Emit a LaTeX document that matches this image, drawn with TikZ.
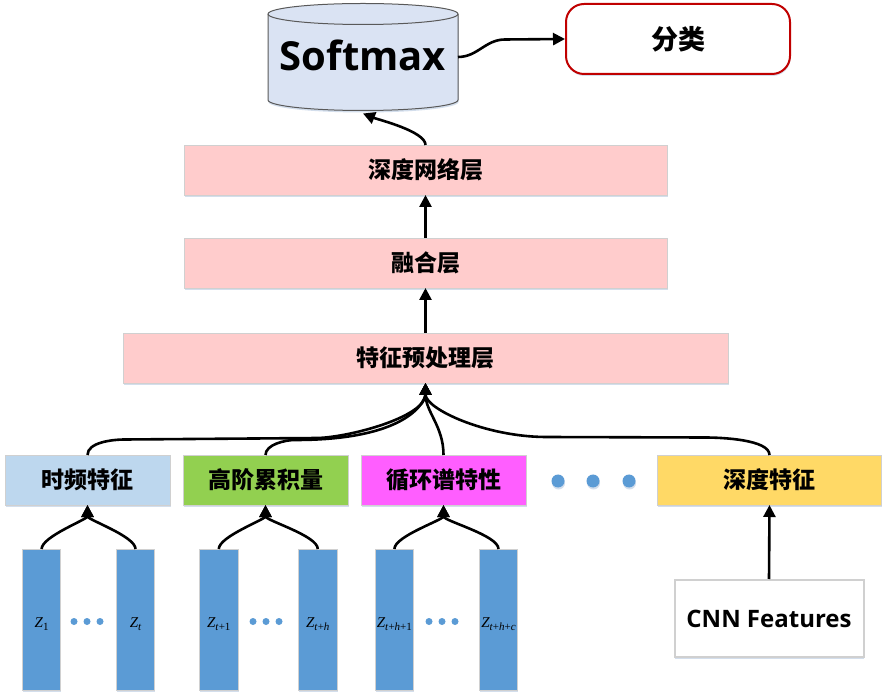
\documentclass[tikz,border=0pt]{standalone}
\usepackage{fontspec}
\newfontfamily\cjk{Noto Sans CJK SC}
\newfontfamily\lat{Open Sans}
\newfontfamily\tms{Liberation Serif}
\newcommand\zlabel[1]{{\itshape Z}\raisebox{-3.5pt}{\fontsize{11}{11}\selectfont #1}}
\usetikzlibrary{arrows.meta,shadows}
\definecolor{cylf}{HTML}{DAE3F3}
\definecolor{cyld}{HTML}{595959}
\definecolor{pinkf}{HTML}{FFCCCC}
\definecolor{bluef}{HTML}{BDD7EE}
\definecolor{greenf}{HTML}{92D050}
\definecolor{magf}{HTML}{FF5EFF}
\definecolor{yelf}{HTML}{FFD966}
\definecolor{barf}{HTML}{5B9BD5}
\definecolor{redb}{HTML}{C00000}
\definecolor{grayb}{HTML}{D0D0D0}
\definecolor{shad}{HTML}{C9D6E8}
\begin{document}
\begin{tikzpicture}[x=1pt,y=1pt,
  shd/.style={drop shadow={shadow xshift=0.5pt,shadow yshift=-2pt,fill=shad,opacity=0.8}},
  box/.style={draw=grayb,line width=0.8pt,inner sep=0pt,outer sep=0pt,shd},
  cjkfont/.style={font=\cjk\bfseries\fontsize{23}{23}\selectfont},
  layer/.style={box,fill=pinkf,minimum height=50pt,cjkfont},
  feat/.style={box,minimum width=165pt,minimum height=50pt,cjkfont},
  bar/.style={box,fill=barf,minimum width=38.5pt,minimum height=141pt},
  zlab/.style={inner sep=0pt,font=\tms\fontsize{15}{15}\selectfont},
  bigdot/.style={circle,fill=barf,inner sep=0pt,minimum size=13pt,shd},
  smalldot/.style={circle,fill=barf,inner sep=0pt,minimum size=7pt},
  conn/.style={line width=2.6pt,-{Triangle[length=12pt,width=12pt]}},
  bconn/.style={conn,out=90,in=-90,out looseness=0.5,in looseness=0.58}
]
\useasboundingbox (0,0) rectangle (888,699);
\fill[white] (0,0) rectangle (888,699);

% Softmax cylinder
\node[minimum width=190pt,minimum height=107pt,inner sep=0pt,outer sep=0pt] (soft) at (363,642) {};
\fill[shad,opacity=0.8] (268.5,683) -- (268.5,597) arc[start angle=180,end angle=360,x radius=95,y radius=10.5] -- (458.5,683) -- cycle;
\filldraw[fill=cylf,draw=cyld,line width=1pt] (268,685) -- (268,599) arc[start angle=180,end angle=360,x radius=95,y radius=10.5] -- (458,685) arc[start angle=0,end angle=180,x radius=95,y radius=10.5] -- cycle;
\draw[cyld,line width=1pt] (268,685) arc[start angle=180,end angle=360,x radius=95,y radius=10.5];
\node[anchor=base,inner sep=0pt,font=\lat\bfseries\fontsize{40}{40}\selectfont] (softt) at (363,628.5) {Softmax};

% classification
\node[draw=redb,line width=2pt,rounded corners=18pt,fill=white,minimum width=224pt,minimum height=70pt,inner sep=0pt,shd,font=\cjk\bfseries\fontsize{27}{27}\selectfont] (cls) at (678,660) {分类};

% layers
\node[layer,minimum width=483pt] (dl) at (425.5,529) {深度网络层};
\node[layer,minimum width=483pt] (fl) at (425.5,436) {融合层};
\node[layer,minimum width=605pt] (pl) at (425.5,341) {特征预处理层};

% feature boxes
\node[feat,fill=bluef] (f1) at (87.5,219) {时频特征};
\node[feat,fill=greenf] (f2) at (265.5,219) {高阶累积量};
\node[feat,fill=magf] (f3) at (443.5,219) {循环谱特性};
\node[feat,fill=yelf,minimum width=224pt] (f4) at (769.5,219) {深度特征};
\node[bigdot] (d1) at (558,218) {};
\node[bigdot] (d2) at (593,218) {};
\node[bigdot] (d3) at (629,218) {};

% bars
\node[bar] (b1) at (41.6,79.5) {};
\node[bar] (b2) at (135.5,79.5) {};
\node[bar] (b3) at (218.8,79.5) {};
\node[bar] (b4) at (317.8,79.5) {};
\node[bar] (b5) at (394.4,79.5) {};
\node[bar] (b6) at (498.5,79.5) {};
\node[zlab] (z1) at (41.6,75) {\zlabel{1}};
\node[zlab] (z2) at (135.5,75) {\zlabel{\itshape t}};
\node[zlab] (z3) at (218.8,75) {\zlabel{\textit{t}+1}};
\node[zlab] (z4) at (317.8,75) {\zlabel{\textit{t}+\textit{h}}};
\node[zlab] (z5) at (394.4,75) {\zlabel{\textit{t}+\textit{h}+1}};
\node[zlab] (z6) at (498.5,75) {\zlabel{\textit{t}+\textit{h}+\textit{c}}};
\node[smalldot] (s1) at (74,77.5) {};
\node[smalldot] (s2) at (87,77.5) {};
\node[smalldot] (s3) at (100,77.5) {};
\node[smalldot] (s4) at (253,77.5) {};
\node[smalldot] (s5) at (266,77.5) {};
\node[smalldot] (s6) at (279,77.5) {};
\node[smalldot] (s7) at (429,77.5) {};
\node[smalldot] (s8) at (442,77.5) {};
\node[smalldot] (s9) at (455,77.5) {};

% CNN box
\node[draw=grayb,line width=2pt,fill=white,minimum width=189pt,minimum height=77pt,inner sep=0pt,shd,font=\lat\bfseries\fontsize{24}{24}\selectfont] (cnn) at (769,80.5) {CNN Features};

% connectors
\coordinate (sj) at (505,659.5);
\draw[conn] (soft.east) to[out=0,in=180] (sj) -- (cls.west);
\draw[conn] (dl.north) to[out=90,in=-22,out looseness=0.5,in looseness=0.6] ([yshift=-3pt]soft.south);
\draw[conn] (fl.north) -- (dl.south);
\draw[conn] (pl.north) -- (fl.south);

\coordinate (j1a) at (125,259.5);
\coordinate (j1b) at (318,261);
\coordinate (j2a) at (295,259);
\coordinate (j4a) at (705,261.5);
\coordinate (j4b) at (545,262);
\draw[conn] (f1.north) to[out=90,in=180,looseness=0.8] (j1a) -- (j1b) .. controls (350,262) and (425.5,282) .. (pl.south);
\draw[conn] (f2.north) to[out=90,in=180,looseness=0.8] (j2a) .. controls (415,259) and (425.5,302) .. (pl.south);
\draw[conn] (f3.north) to[out=90,in=-90] (pl.south);
\draw[conn] (f4.north) to[out=90,in=0,looseness=0.6] (j4a) -- (j4b) .. controls (485,262.5) and (425.5,290) .. (pl.south);

\draw[bconn] (b1.north) to (f1.south);
\draw[bconn] (b2.north) to (f1.south);
\draw[bconn] (b3.north) to (f2.south);
\draw[bconn] (b4.north) to (f2.south);
\draw[bconn] (b5.north) to (f3.south);
\draw[bconn] (b6.north) to (f3.south);
\draw[conn] (cnn.north) -- (f4.south);
\end{tikzpicture}
\end{document}
